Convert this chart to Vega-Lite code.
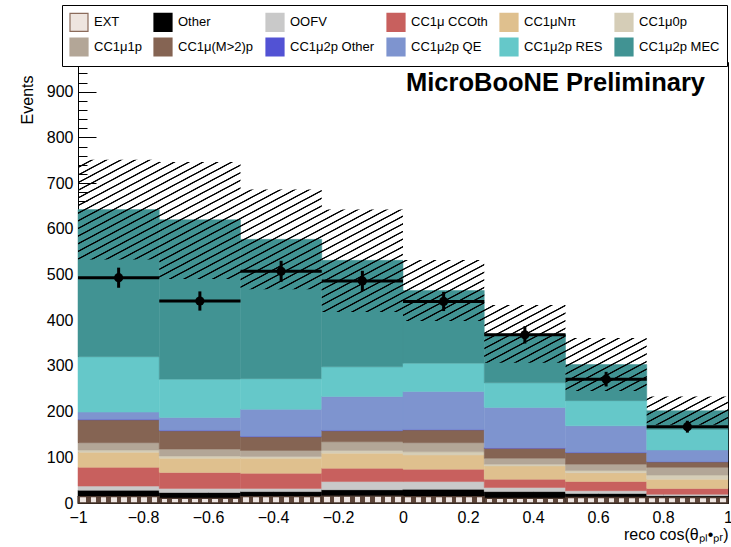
{
  "$schema": "https://vega.github.io/schema/vega-lite/v6.json",
  "width": 650,
  "height": 441,
  "autosize": {"type": "none"},
  "padding": {"left": 78, "top": 62, "right": 3, "bottom": 44},
  "background": "#ffffff",
  "title": {
    "text": "MicroBooNE Preliminary",
    "anchor": "end",
    "frame": "group",
    "orient": "top",
    "offset": 0,
    "dx": -23,
    "dy": 112,
    "baseline": "alphabetic",
    "font": "Liberation Sans",
    "fontSize": 25.5,
    "fontWeight": "bold",
    "color": "#000000"
  },
  "config": {
    "font": "Liberation Sans",
    "view": {"stroke": "#000000", "strokeWidth": 1},
    "axis": {
      "grid": false,
      "zindex": 1,
      "domainColor": "#000000",
      "tickColor": "#000000",
      "labelColor": "#000000",
      "titleColor": "#000000",
      "labelFont": "Liberation Sans",
      "titleFont": "Liberation Sans",
      "titleFontWeight": "normal",
      "domainWidth": 1,
      "tickWidth": 1
    },
    "legend": {"labelFont": "Liberation Sans"}
  },
  "datasets": {
    "bins": [
      {"lo": -1, "hi": -0.75, "EXT": 14, "Other": 14, "OOFV": 9, "CC1μ CCOth": 41, "CC1μNπ": 33, "CC1μ0p": 5, "CC1μ1p": 16, "CC1μ(M>2)p": 50, "CC1μ2p Other": 1, "CC1μ2p QE": 16, "CC1μ2p RES": 121, "CC1μ2p MEC": 322},
      {"lo": -0.75, "hi": -0.5, "EXT": 10, "Other": 13, "OOFV": 9, "CC1μ CCOth": 35, "CC1μNπ": 31, "CC1μ0p": 5, "CC1μ1p": 15, "CC1μ(M>2)p": 40, "CC1μ2p Other": 1, "CC1μ2p QE": 28, "CC1μ2p RES": 84, "CC1μ2p MEC": 349},
      {"lo": -0.5, "hi": -0.25, "EXT": 14, "Other": 11, "OOFV": 7, "CC1μ CCOth": 33, "CC1μNπ": 33, "CC1μ0p": 4, "CC1μ1p": 13, "CC1μ(M>2)p": 30, "CC1μ2p Other": 1, "CC1μ2p QE": 59, "CC1μ2p RES": 67, "CC1μ2p MEC": 305},
      {"lo": -0.25, "hi": 0, "EXT": 15, "Other": 14, "OOFV": 18, "CC1μ CCOth": 29, "CC1μNπ": 33, "CC1μ0p": 6, "CC1μ1p": 19, "CC1μ(M>2)p": 24, "CC1μ2p Other": 1, "CC1μ2p QE": 74, "CC1μ2p RES": 65, "CC1μ2p MEC": 233},
      {"lo": 0, "hi": 0.25, "EXT": 14, "Other": 16, "OOFV": 17, "CC1μ CCOth": 27, "CC1μNπ": 31, "CC1μ0p": 7, "CC1μ1p": 20, "CC1μ(M>2)p": 28, "CC1μ2p Other": 1, "CC1μ2p QE": 83, "CC1μ2p RES": 62, "CC1μ2p MEC": 159},
      {"lo": 0.25, "hi": 0.5, "EXT": 10, "Other": 15, "OOFV": 9, "CC1μ CCOth": 18, "CC1μNπ": 29, "CC1μ0p": 4, "CC1μ1p": 13, "CC1μ(M>2)p": 22, "CC1μ2p Other": 1, "CC1μ2p QE": 88, "CC1μ2p RES": 54, "CC1μ2p MEC": 107},
      {"lo": 0.5, "hi": 0.75, "EXT": 12, "Other": 9, "OOFV": 6, "CC1μ CCOth": 20, "CC1μNπ": 19, "CC1μ0p": 5, "CC1μ1p": 14, "CC1μ(M>2)p": 25, "CC1μ2p Other": 1, "CC1μ2p QE": 58, "CC1μ2p RES": 55, "CC1μ2p MEC": 79},
      {"lo": 0.75, "hi": 1, "EXT": 12, "Other": 4, "OOFV": 3, "CC1μ CCOth": 13, "CC1μNπ": 20, "CC1μ0p": 9, "CC1μ1p": 17, "CC1μ(M>2)p": 12, "CC1μ2p Other": 1, "CC1μ2p QE": 25, "CC1μ2p RES": 45, "CC1μ2p MEC": 41}
    ],
    "band": [
      {"edge": -1, "lo": 533, "hi": 751},
      {"edge": -0.75, "lo": 490, "hi": 746},
      {"edge": -0.5, "lo": 468, "hi": 686},
      {"edge": -0.25, "lo": 418, "hi": 642},
      {"edge": 0, "lo": 398, "hi": 532},
      {"edge": 0.25, "lo": 307, "hi": 433},
      {"edge": 0.5, "lo": 245, "hi": 361},
      {"edge": 0.75, "lo": 171, "hi": 233},
      {"edge": 1, "lo": 171, "hi": 233}
    ],
    "obs": [
      {"lo": -1, "hi": -0.75, "c": -0.875, "obs": 493, "err": 22},
      {"lo": -0.75, "hi": -0.5, "c": -0.625, "obs": 442, "err": 21},
      {"lo": -0.5, "hi": -0.25, "c": -0.375, "obs": 507, "err": 23},
      {"lo": -0.25, "hi": 0, "c": -0.125, "obs": 486, "err": 22},
      {"lo": 0, "hi": 0.25, "c": 0.125, "obs": 441, "err": 21},
      {"lo": 0.25, "hi": 0.5, "c": 0.375, "obs": 368, "err": 19},
      {"lo": 0.5, "hi": 0.75, "c": 0.625, "obs": 271, "err": 16},
      {"lo": 0.75, "hi": 1, "c": 0.875, "obs": 167, "err": 13}
    ]
  },
  "resolve": {"axis": {"x": "independent", "y": "independent"}},
  "layer": [
    {
      "data": {"name": "bins"},
      "transform": [
        {"fold": ["EXT", "Other", "OOFV", "CC1μ CCOth", "CC1μNπ", "CC1μ0p", "CC1μ1p", "CC1μ(M>2)p", "CC1μ2p Other", "CC1μ2p QE", "CC1μ2p RES", "CC1μ2p MEC"], "as": ["cat", "n"]},
        {"stack": "n", "groupby": ["lo"], "as": ["s0", "s1"]},
        {"filter": "datum.cat !== 'EXT'"}
      ],
      "mark": {"type": "bar", "strokeWidth": 0.5},
      "encoding": {
        "x": {
          "field": "lo", "type": "quantitative",
          "scale": {"domain": [-1, 1], "nice": false, "zero": false},
          "axis": {
            "values": [-1, -0.8, -0.6, -0.4, -0.2, 0, 0.2, 0.4, 0.6, 0.8, 1],
            "format": "~g",
            "tickSize": -12,
            "labelFontSize": 16,
            "labelPadding": 18,
            "labelFlush": false,
            "labelOverlap": false,
            "title": "reco cos(θₚₗ•ₚᵣ)",
            "titleFontSize": 16,
            "titleAnchor": "end",
            "titleAlign": "right",
            "titleBaseline": "alphabetic",
            "titleX": 650,
            "titleY": 36
          }
        },
        "x2": {"field": "hi"},
        "y": {
          "field": "s1", "type": "quantitative",
          "scale": {"domain": [0, 965], "nice": false, "zero": true},
          "axis": {
            "values": [0, 100, 200, 300, 400, 500, 600, 700, 800, 900],
            "tickSize": -18,
            "labelFontSize": 16,
            "labelPadding": 23,
            "title": "Events",
            "titleFontSize": 16,
            "titleAngle": 270,
            "titleAlign": "right",
            "titleBaseline": "middle",
            "titleX": -51,
            "titleY": 13
          }
        },
        "y2": {"field": "s0"},
        "color": {
          "field": "cat", "type": "nominal",
          "scale": {
            "domain": ["EXT", "Other", "OOFV", "CC1μ CCOth", "CC1μNπ", "CC1μ0p", "CC1μ1p", "CC1μ(M>2)p", "CC1μ2p Other", "CC1μ2p QE", "CC1μ2p RES", "CC1μ2p MEC"],
            "range": ["#eee5df", "#000000", "#c9c9c9", "#c8605e", "#dfc08e", "#d5cdb7", "#b3a697", "#856453", "#5252d4", "#7e94cf", "#65c8c9", "#419393"]
          },
          "legend": {
            "title": null,
            "orient": "none",
            "legendX": -16,
            "legendY": -57,
            "direction": "horizontal",
            "columns": 6,
            "gridAlign": "each",
            "symbolType": "square",
            "symbolSize": 324,
            "symbolOpacity": 1,
            "symbolStrokeWidth": 1.2,
            "labelFontSize": 13,
            "labelColor": "#000000",
            "labelOffset": 5,
            "labelLimit": 0,
            "columnPadding": 9,
            "rowPadding": 1,
            "padding": 7,
            "strokeColor": "#000000",
            "fillColor": "#ffffff"
          }
        },
        "stroke": {
          "field": "cat", "type": "nominal",
          "scale": {
            "domain": ["EXT", "Other", "OOFV", "CC1μ CCOth", "CC1μNπ", "CC1μ0p", "CC1μ1p", "CC1μ(M>2)p", "CC1μ2p Other", "CC1μ2p QE", "CC1μ2p RES", "CC1μ2p MEC"],
            "range": ["#8b6b5b", "#000000", "#c9c9c9", "#c8605e", "#dfc08e", "#d5cdb7", "#b3a697", "#856453", "#5252d4", "#7e94cf", "#65c8c9", "#419393"]
          }
        }
      }
    },
    {
      "data": {"name": "bins"},
      "transform": [
        {"fold": ["EXT", "Other", "OOFV", "CC1μ CCOth", "CC1μNπ", "CC1μ0p", "CC1μ1p", "CC1μ(M>2)p", "CC1μ2p Other", "CC1μ2p QE", "CC1μ2p RES", "CC1μ2p MEC"], "as": ["cat", "n"]},
        {"stack": "n", "groupby": ["lo"], "as": ["s0", "s1"]},
        {"filter": "datum.cat === 'EXT'"}
      ],
      "mark": {
        "type": "bar",
        "stroke": "#4a372d",
        "strokeWidth": 1.3,
        "fill": {"gradient": "linear", "x1": 0, "y1": 0, "x2": 1, "y2": 0, "stops": [
          {"offset": 0, "color": "#5e463a"}, {"offset": 0.03, "color": "#5e463a"}, {"offset": 0.03, "color": "#efe6e2"}, {"offset": 0.1, "color": "#efe6e2"},
          {"offset": 0.1, "color": "#5e463a"}, {"offset": 0.155, "color": "#5e463a"}, {"offset": 0.155, "color": "#efe6e2"}, {"offset": 0.225, "color": "#efe6e2"},
          {"offset": 0.225, "color": "#5e463a"}, {"offset": 0.28, "color": "#5e463a"}, {"offset": 0.28, "color": "#efe6e2"}, {"offset": 0.35, "color": "#efe6e2"},
          {"offset": 0.35, "color": "#5e463a"}, {"offset": 0.405, "color": "#5e463a"}, {"offset": 0.405, "color": "#efe6e2"}, {"offset": 0.475, "color": "#efe6e2"},
          {"offset": 0.475, "color": "#5e463a"}, {"offset": 0.53, "color": "#5e463a"}, {"offset": 0.53, "color": "#efe6e2"}, {"offset": 0.6, "color": "#efe6e2"},
          {"offset": 0.6, "color": "#5e463a"}, {"offset": 0.655, "color": "#5e463a"}, {"offset": 0.655, "color": "#efe6e2"}, {"offset": 0.725, "color": "#efe6e2"},
          {"offset": 0.725, "color": "#5e463a"}, {"offset": 0.78, "color": "#5e463a"}, {"offset": 0.78, "color": "#efe6e2"}, {"offset": 0.85, "color": "#efe6e2"},
          {"offset": 0.85, "color": "#5e463a"}, {"offset": 0.905, "color": "#5e463a"}, {"offset": 0.905, "color": "#efe6e2"}, {"offset": 0.975, "color": "#efe6e2"},
          {"offset": 0.975, "color": "#5e463a"}, {"offset": 1, "color": "#5e463a"}
        ]}
      },
      "encoding": {
        "x": {"field": "lo", "type": "quantitative", "scale": {"domain": [-1, 1], "nice": false, "zero": false}, "axis": null},
        "x2": {"field": "hi"},
        "y": {"field": "s1", "type": "quantitative", "scale": {"domain": [0, 965], "nice": false}, "axis": null},
        "y2": {"field": "s0"}
      }
    },
    {
      "data": {"name": "band"},
      "mark": {
        "type": "area",
        "orient": "vertical",
        "interpolate": "step-after",
        "fill": {"gradient": "linear", "x1": 0, "y1": 0, "x2": 1.113, "y2": 0.854, "stops": [
          {"offset": 0, "color": "#0000"},
          {"offset": 0.0106, "color": "#0000"}, {"offset": 0.0118, "color": "#000"}, {"offset": 0.0132, "color": "#000"}, {"offset": 0.0144, "color": "#0000"},
          {"offset": 0.0231, "color": "#0000"}, {"offset": 0.0243, "color": "#000"}, {"offset": 0.0257, "color": "#000"}, {"offset": 0.0269, "color": "#0000"},
          {"offset": 0.0356, "color": "#0000"}, {"offset": 0.0368, "color": "#000"}, {"offset": 0.0382, "color": "#000"}, {"offset": 0.0394, "color": "#0000"},
          {"offset": 0.0481, "color": "#0000"}, {"offset": 0.0493, "color": "#000"}, {"offset": 0.0507, "color": "#000"}, {"offset": 0.0519, "color": "#0000"},
          {"offset": 0.0606, "color": "#0000"}, {"offset": 0.0618, "color": "#000"}, {"offset": 0.0632, "color": "#000"}, {"offset": 0.0644, "color": "#0000"},
          {"offset": 0.0731, "color": "#0000"}, {"offset": 0.0743, "color": "#000"}, {"offset": 0.0757, "color": "#000"}, {"offset": 0.0769, "color": "#0000"},
          {"offset": 0.0856, "color": "#0000"}, {"offset": 0.0868, "color": "#000"}, {"offset": 0.0882, "color": "#000"}, {"offset": 0.0894, "color": "#0000"},
          {"offset": 0.0981, "color": "#0000"}, {"offset": 0.0993, "color": "#000"}, {"offset": 0.1007, "color": "#000"}, {"offset": 0.1019, "color": "#0000"},
          {"offset": 0.1106, "color": "#0000"}, {"offset": 0.1118, "color": "#000"}, {"offset": 0.1132, "color": "#000"}, {"offset": 0.1144, "color": "#0000"},
          {"offset": 0.1231, "color": "#0000"}, {"offset": 0.1243, "color": "#000"}, {"offset": 0.1257, "color": "#000"}, {"offset": 0.1269, "color": "#0000"},
          {"offset": 0.1356, "color": "#0000"}, {"offset": 0.1368, "color": "#000"}, {"offset": 0.1382, "color": "#000"}, {"offset": 0.1394, "color": "#0000"},
          {"offset": 0.1481, "color": "#0000"}, {"offset": 0.1493, "color": "#000"}, {"offset": 0.1507, "color": "#000"}, {"offset": 0.1519, "color": "#0000"},
          {"offset": 0.1606, "color": "#0000"}, {"offset": 0.1618, "color": "#000"}, {"offset": 0.1632, "color": "#000"}, {"offset": 0.1644, "color": "#0000"},
          {"offset": 0.1731, "color": "#0000"}, {"offset": 0.1743, "color": "#000"}, {"offset": 0.1757, "color": "#000"}, {"offset": 0.1769, "color": "#0000"},
          {"offset": 0.1856, "color": "#0000"}, {"offset": 0.1868, "color": "#000"}, {"offset": 0.1882, "color": "#000"}, {"offset": 0.1894, "color": "#0000"},
          {"offset": 0.1981, "color": "#0000"}, {"offset": 0.1993, "color": "#000"}, {"offset": 0.2007, "color": "#000"}, {"offset": 0.2019, "color": "#0000"},
          {"offset": 0.2106, "color": "#0000"}, {"offset": 0.2118, "color": "#000"}, {"offset": 0.2132, "color": "#000"}, {"offset": 0.2144, "color": "#0000"},
          {"offset": 0.2231, "color": "#0000"}, {"offset": 0.2243, "color": "#000"}, {"offset": 0.2257, "color": "#000"}, {"offset": 0.2269, "color": "#0000"},
          {"offset": 0.2356, "color": "#0000"}, {"offset": 0.2368, "color": "#000"}, {"offset": 0.2382, "color": "#000"}, {"offset": 0.2394, "color": "#0000"},
          {"offset": 0.2481, "color": "#0000"}, {"offset": 0.2493, "color": "#000"}, {"offset": 0.2507, "color": "#000"}, {"offset": 0.2519, "color": "#0000"},
          {"offset": 0.2606, "color": "#0000"}, {"offset": 0.2618, "color": "#000"}, {"offset": 0.2632, "color": "#000"}, {"offset": 0.2644, "color": "#0000"},
          {"offset": 0.2731, "color": "#0000"}, {"offset": 0.2743, "color": "#000"}, {"offset": 0.2757, "color": "#000"}, {"offset": 0.2769, "color": "#0000"},
          {"offset": 0.2856, "color": "#0000"}, {"offset": 0.2868, "color": "#000"}, {"offset": 0.2882, "color": "#000"}, {"offset": 0.2894, "color": "#0000"},
          {"offset": 0.2981, "color": "#0000"}, {"offset": 0.2993, "color": "#000"}, {"offset": 0.3007, "color": "#000"}, {"offset": 0.3019, "color": "#0000"},
          {"offset": 0.3106, "color": "#0000"}, {"offset": 0.3118, "color": "#000"}, {"offset": 0.3132, "color": "#000"}, {"offset": 0.3144, "color": "#0000"},
          {"offset": 0.3231, "color": "#0000"}, {"offset": 0.3243, "color": "#000"}, {"offset": 0.3257, "color": "#000"}, {"offset": 0.3269, "color": "#0000"},
          {"offset": 0.3356, "color": "#0000"}, {"offset": 0.3368, "color": "#000"}, {"offset": 0.3382, "color": "#000"}, {"offset": 0.3394, "color": "#0000"},
          {"offset": 0.3481, "color": "#0000"}, {"offset": 0.3493, "color": "#000"}, {"offset": 0.3507, "color": "#000"}, {"offset": 0.3519, "color": "#0000"},
          {"offset": 0.3606, "color": "#0000"}, {"offset": 0.3618, "color": "#000"}, {"offset": 0.3632, "color": "#000"}, {"offset": 0.3644, "color": "#0000"},
          {"offset": 0.3731, "color": "#0000"}, {"offset": 0.3743, "color": "#000"}, {"offset": 0.3757, "color": "#000"}, {"offset": 0.3769, "color": "#0000"},
          {"offset": 0.3856, "color": "#0000"}, {"offset": 0.3868, "color": "#000"}, {"offset": 0.3882, "color": "#000"}, {"offset": 0.3894, "color": "#0000"},
          {"offset": 0.3981, "color": "#0000"}, {"offset": 0.3993, "color": "#000"}, {"offset": 0.4007, "color": "#000"}, {"offset": 0.4019, "color": "#0000"},
          {"offset": 0.4106, "color": "#0000"}, {"offset": 0.4118, "color": "#000"}, {"offset": 0.4132, "color": "#000"}, {"offset": 0.4144, "color": "#0000"},
          {"offset": 0.4231, "color": "#0000"}, {"offset": 0.4243, "color": "#000"}, {"offset": 0.4257, "color": "#000"}, {"offset": 0.4269, "color": "#0000"},
          {"offset": 0.4356, "color": "#0000"}, {"offset": 0.4368, "color": "#000"}, {"offset": 0.4382, "color": "#000"}, {"offset": 0.4394, "color": "#0000"},
          {"offset": 0.4481, "color": "#0000"}, {"offset": 0.4493, "color": "#000"}, {"offset": 0.4507, "color": "#000"}, {"offset": 0.4519, "color": "#0000"},
          {"offset": 0.4606, "color": "#0000"}, {"offset": 0.4618, "color": "#000"}, {"offset": 0.4632, "color": "#000"}, {"offset": 0.4644, "color": "#0000"},
          {"offset": 0.4731, "color": "#0000"}, {"offset": 0.4743, "color": "#000"}, {"offset": 0.4757, "color": "#000"}, {"offset": 0.4769, "color": "#0000"},
          {"offset": 0.4856, "color": "#0000"}, {"offset": 0.4868, "color": "#000"}, {"offset": 0.4882, "color": "#000"}, {"offset": 0.4894, "color": "#0000"},
          {"offset": 0.4981, "color": "#0000"}, {"offset": 0.4993, "color": "#000"}, {"offset": 0.5007, "color": "#000"}, {"offset": 0.5019, "color": "#0000"},
          {"offset": 0.5106, "color": "#0000"}, {"offset": 0.5118, "color": "#000"}, {"offset": 0.5132, "color": "#000"}, {"offset": 0.5144, "color": "#0000"},
          {"offset": 0.5231, "color": "#0000"}, {"offset": 0.5243, "color": "#000"}, {"offset": 0.5257, "color": "#000"}, {"offset": 0.5269, "color": "#0000"},
          {"offset": 0.5356, "color": "#0000"}, {"offset": 0.5368, "color": "#000"}, {"offset": 0.5382, "color": "#000"}, {"offset": 0.5394, "color": "#0000"},
          {"offset": 0.5481, "color": "#0000"}, {"offset": 0.5493, "color": "#000"}, {"offset": 0.5507, "color": "#000"}, {"offset": 0.5519, "color": "#0000"},
          {"offset": 0.5606, "color": "#0000"}, {"offset": 0.5618, "color": "#000"}, {"offset": 0.5632, "color": "#000"}, {"offset": 0.5644, "color": "#0000"},
          {"offset": 0.5731, "color": "#0000"}, {"offset": 0.5743, "color": "#000"}, {"offset": 0.5757, "color": "#000"}, {"offset": 0.5769, "color": "#0000"},
          {"offset": 0.5856, "color": "#0000"}, {"offset": 0.5868, "color": "#000"}, {"offset": 0.5882, "color": "#000"}, {"offset": 0.5894, "color": "#0000"},
          {"offset": 0.5981, "color": "#0000"}, {"offset": 0.5993, "color": "#000"}, {"offset": 0.6007, "color": "#000"}, {"offset": 0.6019, "color": "#0000"},
          {"offset": 0.6106, "color": "#0000"}, {"offset": 0.6118, "color": "#000"}, {"offset": 0.6132, "color": "#000"}, {"offset": 0.6144, "color": "#0000"},
          {"offset": 0.6231, "color": "#0000"}, {"offset": 0.6243, "color": "#000"}, {"offset": 0.6257, "color": "#000"}, {"offset": 0.6269, "color": "#0000"},
          {"offset": 0.6356, "color": "#0000"}, {"offset": 0.6368, "color": "#000"}, {"offset": 0.6382, "color": "#000"}, {"offset": 0.6394, "color": "#0000"},
          {"offset": 0.6481, "color": "#0000"}, {"offset": 0.6493, "color": "#000"}, {"offset": 0.6507, "color": "#000"}, {"offset": 0.6519, "color": "#0000"},
          {"offset": 0.6606, "color": "#0000"}, {"offset": 0.6618, "color": "#000"}, {"offset": 0.6632, "color": "#000"}, {"offset": 0.6644, "color": "#0000"},
          {"offset": 0.6731, "color": "#0000"}, {"offset": 0.6743, "color": "#000"}, {"offset": 0.6757, "color": "#000"}, {"offset": 0.6769, "color": "#0000"},
          {"offset": 0.6856, "color": "#0000"}, {"offset": 0.6868, "color": "#000"}, {"offset": 0.6882, "color": "#000"}, {"offset": 0.6894, "color": "#0000"},
          {"offset": 0.6981, "color": "#0000"}, {"offset": 0.6993, "color": "#000"}, {"offset": 0.7007, "color": "#000"}, {"offset": 0.7019, "color": "#0000"},
          {"offset": 0.7106, "color": "#0000"}, {"offset": 0.7118, "color": "#000"}, {"offset": 0.7132, "color": "#000"}, {"offset": 0.7144, "color": "#0000"},
          {"offset": 0.7231, "color": "#0000"}, {"offset": 0.7243, "color": "#000"}, {"offset": 0.7257, "color": "#000"}, {"offset": 0.7269, "color": "#0000"},
          {"offset": 0.7356, "color": "#0000"}, {"offset": 0.7368, "color": "#000"}, {"offset": 0.7382, "color": "#000"}, {"offset": 0.7394, "color": "#0000"},
          {"offset": 0.7481, "color": "#0000"}, {"offset": 0.7493, "color": "#000"}, {"offset": 0.7507, "color": "#000"}, {"offset": 0.7519, "color": "#0000"},
          {"offset": 0.7606, "color": "#0000"}, {"offset": 0.7618, "color": "#000"}, {"offset": 0.7632, "color": "#000"}, {"offset": 0.7644, "color": "#0000"},
          {"offset": 0.7731, "color": "#0000"}, {"offset": 0.7743, "color": "#000"}, {"offset": 0.7757, "color": "#000"}, {"offset": 0.7769, "color": "#0000"},
          {"offset": 0.7856, "color": "#0000"}, {"offset": 0.7868, "color": "#000"}, {"offset": 0.7882, "color": "#000"}, {"offset": 0.7894, "color": "#0000"},
          {"offset": 0.7981, "color": "#0000"}, {"offset": 0.7993, "color": "#000"}, {"offset": 0.8007, "color": "#000"}, {"offset": 0.8019, "color": "#0000"},
          {"offset": 0.8106, "color": "#0000"}, {"offset": 0.8118, "color": "#000"}, {"offset": 0.8132, "color": "#000"}, {"offset": 0.8144, "color": "#0000"},
          {"offset": 0.8231, "color": "#0000"}, {"offset": 0.8243, "color": "#000"}, {"offset": 0.8257, "color": "#000"}, {"offset": 0.8269, "color": "#0000"},
          {"offset": 0.8356, "color": "#0000"}, {"offset": 0.8368, "color": "#000"}, {"offset": 0.8382, "color": "#000"}, {"offset": 0.8394, "color": "#0000"},
          {"offset": 0.8481, "color": "#0000"}, {"offset": 0.8493, "color": "#000"}, {"offset": 0.8507, "color": "#000"}, {"offset": 0.8519, "color": "#0000"},
          {"offset": 0.8606, "color": "#0000"}, {"offset": 0.8618, "color": "#000"}, {"offset": 0.8632, "color": "#000"}, {"offset": 0.8644, "color": "#0000"},
          {"offset": 0.8731, "color": "#0000"}, {"offset": 0.8743, "color": "#000"}, {"offset": 0.8757, "color": "#000"}, {"offset": 0.8769, "color": "#0000"},
          {"offset": 0.8856, "color": "#0000"}, {"offset": 0.8868, "color": "#000"}, {"offset": 0.8882, "color": "#000"}, {"offset": 0.8894, "color": "#0000"},
          {"offset": 0.8981, "color": "#0000"}, {"offset": 0.8993, "color": "#000"}, {"offset": 0.9007, "color": "#000"}, {"offset": 0.9019, "color": "#0000"},
          {"offset": 0.9106, "color": "#0000"}, {"offset": 0.9118, "color": "#000"}, {"offset": 0.9132, "color": "#000"}, {"offset": 0.9144, "color": "#0000"},
          {"offset": 0.9231, "color": "#0000"}, {"offset": 0.9243, "color": "#000"}, {"offset": 0.9257, "color": "#000"}, {"offset": 0.9269, "color": "#0000"},
          {"offset": 0.9356, "color": "#0000"}, {"offset": 0.9368, "color": "#000"}, {"offset": 0.9382, "color": "#000"}, {"offset": 0.9394, "color": "#0000"},
          {"offset": 0.9481, "color": "#0000"}, {"offset": 0.9493, "color": "#000"}, {"offset": 0.9507, "color": "#000"}, {"offset": 0.9519, "color": "#0000"},
          {"offset": 0.9606, "color": "#0000"}, {"offset": 0.9618, "color": "#000"}, {"offset": 0.9632, "color": "#000"}, {"offset": 0.9644, "color": "#0000"},
          {"offset": 0.9731, "color": "#0000"}, {"offset": 0.9743, "color": "#000"}, {"offset": 0.9757, "color": "#000"}, {"offset": 0.9769, "color": "#0000"},
          {"offset": 0.9856, "color": "#0000"}, {"offset": 0.9868, "color": "#000"}, {"offset": 0.9882, "color": "#000"}, {"offset": 0.9894, "color": "#0000"},
          {"offset": 1, "color": "#0000"}
        ]}
      },
      "encoding": {
        "x": {"field": "edge", "type": "quantitative", "scale": {"domain": [-1, 1], "nice": false, "zero": false}, "axis": null},
        "y": {"field": "hi", "type": "quantitative", "scale": {"domain": [0, 965], "nice": false}, "axis": null},
        "y2": {"field": "lo"}
      }
    },
    {
      "data": {"name": "obs"},
      "mark": {"type": "rule", "color": "#000000", "strokeWidth": 3},
      "encoding": {
        "x": {"field": "lo", "type": "quantitative", "scale": {"domain": [-1, 1], "nice": false, "zero": false}, "axis": null},
        "x2": {"field": "hi"},
        "y": {"field": "obs", "type": "quantitative", "scale": {"domain": [0, 965], "nice": false}, "axis": null}
      }
    },
    {
      "data": {"name": "obs"},
      "transform": [
        {"calculate": "datum.obs - datum.err", "as": "elo"},
        {"calculate": "datum.obs + datum.err", "as": "ehi"}
      ],
      "mark": {"type": "rule", "color": "#000000", "strokeWidth": 3},
      "encoding": {
        "x": {
          "field": "c", "type": "quantitative",
          "scale": {"domain": [-1, 1], "nice": false, "zero": false},
          "axis": {
            "orient": "bottom",
            "values": [-0.96, -0.92, -0.88, -0.84, -0.76, -0.72, -0.68, -0.64, -0.56, -0.52, -0.48, -0.44, -0.36, -0.32, -0.28, -0.24, -0.16, -0.12, -0.08, -0.04, 0.04, 0.08, 0.12, 0.16, 0.24, 0.28, 0.32, 0.36, 0.44, 0.48, 0.52, 0.56, 0.64, 0.68, 0.72, 0.76, 0.84, 0.88, 0.92, 0.96],
            "tickSize": -6,
            "labels": false,
            "domain": false,
            "title": null
          }
        },
        "y": {
          "field": "elo", "type": "quantitative",
          "scale": {"domain": [0, 965], "nice": false},
          "axis": {
            "orient": "left",
            "values": [20, 40, 60, 80, 120, 140, 160, 180, 220, 240, 260, 280, 320, 340, 360, 380, 420, 440, 460, 480, 520, 540, 560, 580, 620, 640, 660, 680, 720, 740, 760, 780, 820, 840, 860, 880, 920, 940, 960],
            "tickSize": -9,
            "labels": false,
            "domain": false,
            "title": null
          }
        },
        "y2": {"field": "ehi"}
      }
    },
    {
      "data": {"name": "obs"},
      "mark": {"type": "point", "shape": "circle", "filled": true, "size": 85, "color": "#000000", "opacity": 1},
      "encoding": {
        "x": {"field": "c", "type": "quantitative", "scale": {"domain": [-1, 1], "nice": false, "zero": false}, "axis": null},
        "y": {"field": "obs", "type": "quantitative", "scale": {"domain": [0, 965], "nice": false}, "axis": null}
      }
    }
  ]
}
